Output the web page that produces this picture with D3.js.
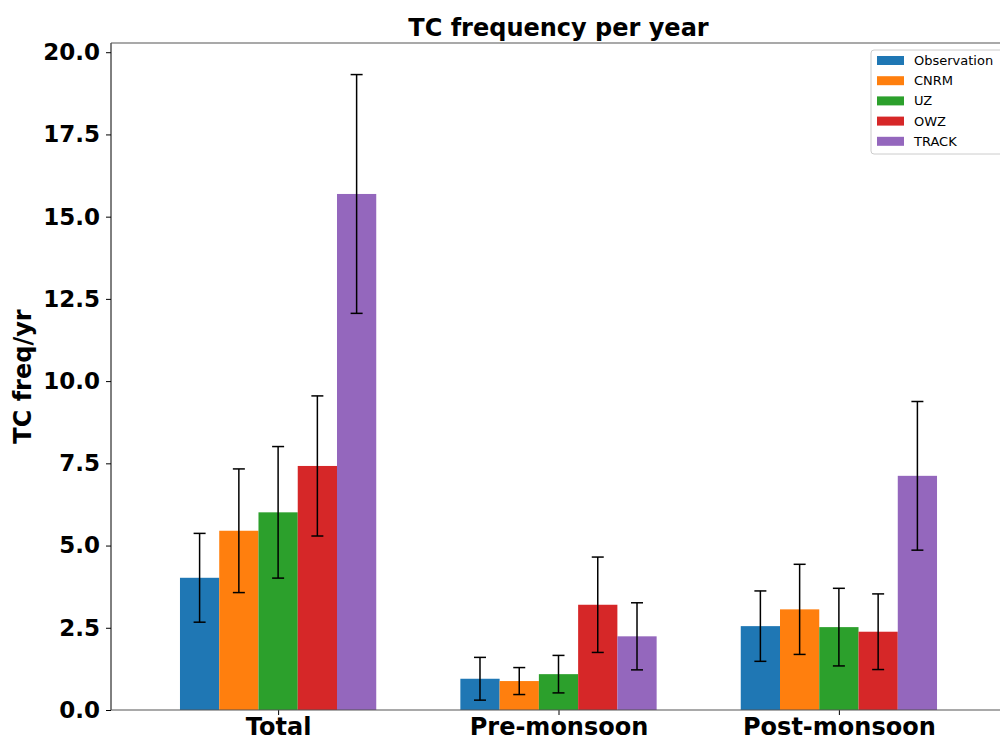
<!DOCTYPE html>
<html>
<head>
<meta charset="utf-8">
<script src="https://cdn.jsdelivr.net/npm/d3@7"></script>
<style>
  body { margin: 0; background: #fff; }
  svg { display: block; font-family: "DejaVu Sans", sans-serif; }
</style>
</head>
<body>
<div id="chart"></div>
<script>
// categories and series
const categories = ['Total', 'Pre-monsoon', 'Post-monsoon'];
const seriesNames = ['Observation', 'CNRM', 'UZ', 'OWZ', 'TRACK'];
const colors = ['#1f77b4', '#ff7f0e', '#2ca02c', '#d62728', '#9467bd'];

// mean values, one row per series (Total, Pre, Post)
const observation = [4.02, 0.95, 2.55];
const cnrm = [5.45, 0.88, 3.06];
const uz = [6.01, 1.09, 2.52];
const owz = [7.42, 3.20, 2.38];
const track = [15.69, 2.24, 7.12];

// symmetric error (std) per series
const observationErr = [1.35, 0.65, 1.07];
const cnrmErr = [1.88, 0.41, 1.37];
const uzErr = [2.0, 0.57, 1.18];
const owzErr = [2.13, 1.45, 1.15];
const trackErr = [3.63, 1.02, 2.26];

const yTicks = [0, 2.5, 5, 7.5, 10, 12.5, 15, 17.5, 20];

const values = [observation, cnrm, uz, owz, track];
const errors = [observationErr, cnrmErr, uzErr, owzErr, trackErr];

const width = 1000, height = 740;
const margin = { top: 43, right: -6, bottom: 30, left: 111 };
const barWidth = 0.14;

const svg = d3.select('#chart').append('svg')
  .attr('width', width)
  .attr('height', height);

const x = d3.scaleLinear()
  .domain([-0.596, 2.596])
  .range([margin.left, width - margin.right]);

const y = d3.scaleLinear()
  .domain([0, 20.28])
  .range([height - margin.bottom, margin.top]);

// bars
seriesNames.forEach((name, i) => {
  const offset = (i - 2) * barWidth;
  svg.append('g')
    .selectAll('rect')
    .data(values[i])
    .enter()
    .append('rect')
    .attr('x', (d, j) => x(j + offset - barWidth / 2))
    .attr('width', x(barWidth) - x(0))
    .attr('y', (d) => y(d))
    .attr('height', (d) => y(0) - y(d))
    .attr('fill', colors[i]);
});

// error bars
seriesNames.forEach((name, i) => {
  const offset = (i - 2) * barWidth;
  const g = svg.append('g').attr('stroke', '#000').attr('stroke-width', 1.5);
  values[i].forEach((v, j) => {
    const cx = x(j + offset);
    const lo = y(v - errors[i][j]);
    const hi = y(v + errors[i][j]);
    g.append('line').attr('x1', cx).attr('x2', cx).attr('y1', lo).attr('y2', hi);
    g.append('line').attr('x1', cx - 6).attr('x2', cx + 6).attr('y1', lo).attr('y2', lo);
    g.append('line').attr('x1', cx - 6).attr('x2', cx + 6).attr('y1', hi).attr('y2', hi);
  });
});

// y axis
const yAxis = svg.append('g')
  .attr('transform', `translate(${margin.left},0)`)
  .call(d3.axisLeft(y).tickValues(yTicks).tickFormat(d3.format('.1f')).tickSize(5).tickPadding(6));
yAxis.select('.domain').remove();
yAxis.selectAll('text')
  .attr('font-size', 23)
  .attr('font-weight', 'bold')
  .attr('font-family', 'DejaVu Sans')
  .attr('fill', '#000');

// x axis
const xAxis = svg.append('g')
  .attr('transform', `translate(0,${y(0)})`)
  .call(d3.axisBottom(x).tickValues([0, 1, 2]).tickFormat((d) => categories[d]).tickSize(5).tickPadding(3));
xAxis.select('.domain').remove();
xAxis.selectAll('text')
  .attr('font-size', 24)
  .attr('font-weight', 'bold')
  .attr('font-family', 'DejaVu Sans')
  .attr('fill', '#000');

// spines
const x0 = margin.left, x1 = width - margin.right;
const yTop = margin.top, yBot = height - margin.bottom;
svg.append('line').attr('x1', x0).attr('x2', x0).attr('y1', yTop).attr('y2', yBot)
  .attr('stroke', '#000').attr('stroke-width', 1);
svg.append('line').attr('x1', x0).attr('x2', x1).attr('y1', yTop).attr('y2', yTop)
  .attr('stroke', '#555').attr('stroke-width', 1.2);
svg.append('line').attr('x1', x0).attr('x2', x1).attr('y1', yBot).attr('y2', yBot)
  .attr('stroke', '#555').attr('stroke-width', 1.2);

// title
svg.append('text')
  .attr('x', (x0 + x1) / 2)
  .attr('y', 36)
  .attr('text-anchor', 'middle')
  .attr('font-size', 24)
  .attr('font-weight', 'bold')
  .text('TC frequency per year');

// y label
svg.append('text')
  .attr('transform', `translate(31,${(yTop + yBot) / 2}) rotate(-90)`)
  .attr('text-anchor', 'middle')
  .attr('font-size', 24)
  .attr('font-weight', 'bold')
  .text('TC freq/yr');

// legend
const legend = svg.append('g').attr('transform', 'translate(871,50)');
legend.append('rect')
  .attr('x', 0).attr('y', 0).attr('width', 140).attr('height', 104)
  .attr('rx', 3)
  .attr('fill', '#fff').attr('fill-opacity', 0.8)
  .attr('stroke', '#ccc');
seriesNames.forEach((name, i) => {
  const ly = 10 + i * 20.2;
  legend.append('rect')
    .attr('x', 6).attr('y', ly - 4).attr('width', 27).attr('height', 9)
    .attr('fill', colors[i]);
  legend.append('text')
    .attr('x', 43).attr('y', ly + 5)
    .attr('font-size', 13)
    .text(name);
});
</script>
</body>
</html>
